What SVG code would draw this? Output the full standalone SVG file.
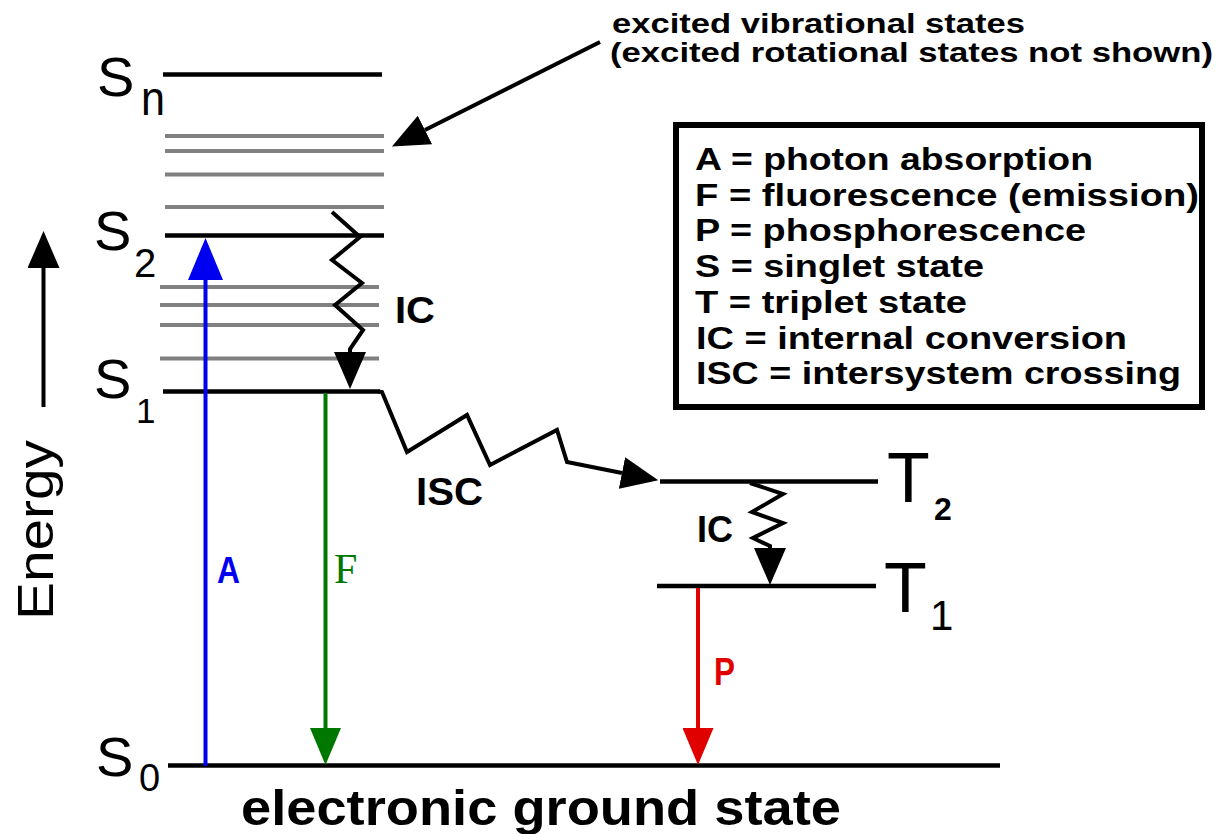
<svg xmlns="http://www.w3.org/2000/svg" width="1220" height="834" viewBox="0 0 1220 834">
<style>
.lvl{stroke:#000;stroke-width:4.5;fill:none}
.vib{stroke:#808080;stroke-width:4;fill:none}
.cn{stroke:#000;stroke-width:4;fill:none;stroke-linejoin:miter}
.sans{font-family:"Liberation Sans",Arial,sans-serif}
.lab{font-family:"Liberation Sans",Arial,sans-serif;font-weight:bold}
.big{font-family:"Liberation Sans",Arial,sans-serif;font-size:56px}
.tbig{font-family:"Liberation Sans",Arial,sans-serif;font-size:70px}
.leg{font-family:"Liberation Sans",Arial,sans-serif;font-weight:bold;font-size:32px}
</style>
<defs>
<marker id="hk" viewBox="0 0 37 32" refX="0" refY="16" markerWidth="37" markerHeight="32" markerUnits="userSpaceOnUse" orient="auto"><path d="M0,0 L37,16 L0,32 z" fill="#000"/></marker>
<marker id="hb" viewBox="0 0 42 35" refX="0" refY="17.5" markerWidth="42" markerHeight="35" markerUnits="userSpaceOnUse" orient="auto"><path d="M0,0 L42,17.5 L0,35 z" fill="#0000f0"/></marker>
<marker id="hg" viewBox="0 0 37 31" refX="0" refY="15.5" markerWidth="37" markerHeight="31" markerUnits="userSpaceOnUse" orient="auto"><path d="M0,0 L37,15.5 L0,31 z" fill="#007800"/></marker>
<marker id="hr" viewBox="0 0 37 31" refX="0" refY="15.5" markerWidth="37" markerHeight="31" markerUnits="userSpaceOnUse" orient="auto"><path d="M0,0 L37,15.5 L0,31 z" fill="#e00000"/></marker>
</defs>
<rect width="1220" height="834" fill="#fff"/>

<g id="energy-axis">
<path class="cn" d="M43.5,407 V268" marker-end="url(#hk)"/>
<text class="sans" font-size="50" transform="translate(53,620) rotate(-90)" textLength="180" lengthAdjust="spacingAndGlyphs">Energy</text>
</g>

<g id="Sn">
<line class="lvl" x1="163" y1="74.5" x2="382" y2="74.5"/>
<text class="big" x="97" y="96">S</text>
<text class="sans" font-size="48" x="141" y="115" textLength="24" lengthAdjust="spacingAndGlyphs">n</text>
</g>

<g id="vibrational-S2">
<line class="vib" x1="165" y1="136" x2="384" y2="136"/>
<line class="vib" x1="165" y1="151" x2="384" y2="151"/>
<line class="vib" x1="165" y1="174.5" x2="384" y2="174.5"/>
<line class="vib" x1="165" y1="207" x2="384" y2="207"/>
</g>

<g id="S2">
<line class="lvl" x1="165" y1="235.5" x2="384" y2="235.5"/>
<text class="big" x="94" y="250">S</text>
<text class="sans" font-size="40" x="134" y="277">2</text>
</g>

<g id="vibrational-S1">
<line class="vib" x1="160" y1="287" x2="379" y2="287"/>
<line class="vib" x1="160" y1="305" x2="379" y2="305"/>
<line class="vib" x1="160" y1="325" x2="379" y2="325"/>
<line class="vib" x1="160" y1="358.5" x2="379" y2="358.5"/>
</g>

<g id="S1">
<line class="lvl" x1="163" y1="391.5" x2="380" y2="391.5"/>
<text class="big" x="94" y="398">S</text>
<text class="sans" font-size="35" x="136" y="423">1</text>
</g>

<g id="T2">
<line class="lvl" x1="660" y1="481.5" x2="878" y2="481.5"/>
<text class="tbig" x="887" y="502">T</text>
<text class="sans" font-size="32" font-weight="bold" x="934" y="520">2</text>
</g>

<g id="T1">
<line class="lvl" x1="657" y1="586" x2="876" y2="586"/>
<text class="tbig" x="884" y="612">T</text>
<text class="sans" font-size="42" x="930" y="630">1</text>
</g>

<g id="S0">
<line class="lvl" x1="168" y1="765.5" x2="1000" y2="765.5"/>
<text class="big" x="96" y="776">S</text>
<text class="sans" font-size="38" x="139" y="791">0</text>
<text class="lab" font-size="50" x="241" y="825" textLength="600" lengthAdjust="spacingAndGlyphs">electronic ground state</text>
</g>

<g id="note">
<text class="lab" font-size="27" x="612" y="33" textLength="413" lengthAdjust="spacingAndGlyphs">excited vibrational states</text>
<text class="lab" font-size="27" x="610" y="62" textLength="603" lengthAdjust="spacingAndGlyphs">(excited rotational states not shown)</text>
</g>

<g id="legend">
<rect x="676" y="125" width="526" height="282" fill="#fff" stroke="#000" stroke-width="6"/>
<text class="leg" x="695" y="170" textLength="398" lengthAdjust="spacingAndGlyphs">A = photon absorption</text>
<text class="leg" x="695" y="205.5" textLength="504" lengthAdjust="spacingAndGlyphs">F = fluorescence (emission)</text>
<text class="leg" x="695" y="241" textLength="391" lengthAdjust="spacingAndGlyphs">P = phosphorescence</text>
<text class="leg" x="695" y="277" textLength="289" lengthAdjust="spacingAndGlyphs">S = singlet state</text>
<text class="leg" x="695" y="312.5" textLength="272" lengthAdjust="spacingAndGlyphs">T = triplet state</text>
<text class="leg" x="696" y="348.5" textLength="431" lengthAdjust="spacingAndGlyphs">IC = internal conversion</text>
<text class="leg" x="696" y="384" textLength="485" lengthAdjust="spacingAndGlyphs">ISC = intersystem crossing</text>
</g>

<g id="connectors">
<path d="M205.5,766 V280" stroke="#0000f0" stroke-width="4" fill="none" marker-end="url(#hb)"/>
<path d="M325.5,393 V728" stroke="#007800" stroke-width="4" fill="none" marker-end="url(#hg)"/>
<path d="M698,588 V728" stroke="#e00000" stroke-width="4" fill="none" marker-end="url(#hr)"/>
<path class="cn" d="M332,212 L360,237 L332,260 L362,283 L335,305 L363,330 L350,349 L350,352" marker-end="url(#hk)"/>
<path class="cn" d="M378,391.5 L382,392 L407,452 L467,415 L490,465 L557,430 L567,462 L622,473" marker-end="url(#hk)"/>
<path class="cn" d="M750,483 L783,494 L752,512 L783,523 L753,538 L770,546 L770,548" marker-end="url(#hk)"/>
<path class="cn" d="M600,42 L425,130" marker-end="url(#hk)"/>
<text class="lab" font-size="36" fill="#0000f0" x="217" y="583" textLength="23" lengthAdjust="spacingAndGlyphs">A</text>
<text font-family="'Liberation Serif','Times New Roman',serif" font-size="42" fill="#007800" x="334" y="583">F</text>
<text class="lab" font-size="38" fill="#e00000" x="714" y="685" textLength="21" lengthAdjust="spacingAndGlyphs">P</text>
<text class="lab" font-size="36" x="395" y="323" textLength="40" lengthAdjust="spacingAndGlyphs">IC</text>
<text class="lab" font-size="36" x="697" y="542" textLength="36" lengthAdjust="spacingAndGlyphs">IC</text>
<text class="lab" font-size="38" x="416" y="505" textLength="67" lengthAdjust="spacingAndGlyphs">ISC</text>
</g>
</svg>
